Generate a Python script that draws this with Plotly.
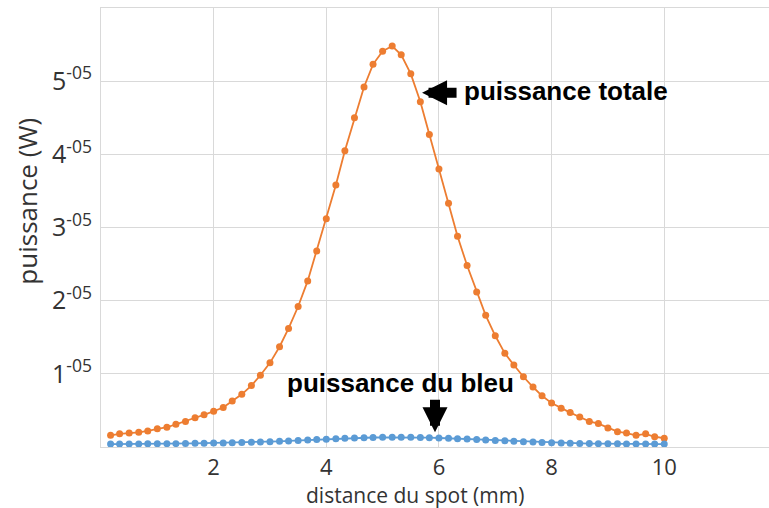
import plotly.graph_objects as go

# distance from the spot (mm)
distance_mm = [
    0.17, 0.33, 0.50, 0.67, 0.83, 1.00, 1.17, 1.33, 1.50, 1.67,
    1.83, 2.00, 2.17, 2.33, 2.50, 2.67, 2.83, 3.00, 3.17, 3.33,
    3.50, 3.67, 3.83, 4.00, 4.17, 4.33, 4.50, 4.67, 4.83, 5.00,
    5.17, 5.33, 5.50, 5.67, 5.83, 6.00, 6.17, 6.33, 6.50, 6.67,
    6.83, 7.00, 7.17, 7.33, 7.50, 7.67, 7.83, 8.00, 8.17, 8.33,
    8.50, 8.67, 8.83, 9.00, 9.17, 9.33, 9.50, 9.67, 9.83, 10.00,
]

# total power (W)
puissance_totale = [
    1.6e-6, 1.8e-6, 1.9e-6, 2.0e-6, 2.2e-6, 2.5e-6, 2.7e-6, 3.1e-6, 3.5e-6, 4.0e-6,
    4.4e-6, 4.9e-6, 5.4e-6, 6.3e-6, 7.2e-6, 8.4e-6, 9.8e-6, 1.15e-5, 1.37e-5, 1.62e-5,
    1.92e-5, 2.27e-5, 2.68e-5, 3.12e-5, 3.58e-5, 4.05e-5, 4.50e-5, 4.92e-5, 5.23e-5, 5.41e-5,
    5.48e-5, 5.36e-5, 5.10e-5, 4.72e-5, 4.27e-5, 3.80e-5, 3.33e-5, 2.88e-5, 2.48e-5, 2.12e-5,
    1.80e-5, 1.52e-5, 1.28e-5, 1.12e-5, 9.6e-6, 8.2e-6, 7.0e-6, 6.0e-6, 5.3e-6, 4.7e-6,
    4.1e-6, 3.5e-6, 3.2e-6, 2.6e-6, 2.1e-6, 1.9e-6, 1.6e-6, 1.8e-6, 1.4e-6, 1.2e-6,
]

# blue power (W)
puissance_bleu = [
    4.0e-7, 4.0e-7, 4.1e-7, 4.2e-7, 4.3e-7, 4.4e-7, 4.5e-7, 4.6e-7, 4.8e-7, 5.0e-7,
    5.2e-7, 5.4e-7, 5.6e-7, 5.9e-7, 6.2e-7, 6.5e-7, 6.9e-7, 7.3e-7, 7.8e-7, 8.3e-7,
    8.9e-7, 9.5e-7, 1.01e-6, 1.07e-6, 1.13e-6, 1.18e-6, 1.23e-6, 1.27e-6, 1.30e-6, 1.32e-6,
    1.33e-6, 1.33e-6, 1.32e-6, 1.30e-6, 1.27e-6, 1.23e-6, 1.18e-6, 1.13e-6, 1.08e-6, 1.02e-6,
    9.6e-7, 9.0e-7, 8.4e-7, 7.8e-7, 7.3e-7, 6.8e-7, 6.3e-7, 5.9e-7, 5.5e-7, 5.2e-7,
    4.9e-7, 4.7e-7, 4.5e-7, 4.4e-7, 4.3e-7, 4.2e-7, 4.1e-7, 4.1e-7, 4.0e-7, 4.0e-7,
]

x_ticks = [0, 2, 4, 6, 8, 10]
x_ticktext = ["", "2", "4", "6", "8", "10"]
y_ticks = [1e-5, 2e-5, 3e-5, 4e-5, 5e-5]
y_ticktext = ["1<sup>-05</sup>", "2<sup>-05</sup>", "3<sup>-05</sup>",
              "4<sup>-05</sup>", "5<sup>-05</sup>"]

ORANGE = "#ED7D31"
BLUE = "#5B9BD5"
GRID = "#D9D9D9"
AXIS_TXT = "#333333"
LABEL_FONT = "Open Sans, Liberation Sans, sans-serif"

fig = go.Figure()
fig.add_trace(go.Scatter(
    x=distance_mm, y=puissance_totale, mode="lines+markers",
    line=dict(color=ORANGE, width=1.8),
    marker=dict(color=ORANGE, size=7),
    name="puissance totale",
))
fig.add_trace(go.Scatter(
    x=distance_mm, y=puissance_bleu, mode="lines+markers",
    line=dict(color=BLUE, width=1.8),
    marker=dict(color=BLUE, size=7),
    name="puissance du bleu",
))

fig.update_layout(
    width=769, height=508,
    margin=dict(l=101, r=0, t=8, b=61),
    paper_bgcolor="white", plot_bgcolor="white",
    showlegend=False,
    font=dict(family=LABEL_FONT, color=AXIS_TXT),
    xaxis=dict(
        range=[0, 11.86],
        tickvals=x_ticks, ticktext=x_ticktext,
        tickfont=dict(size=22, color=AXIS_TXT),
        showgrid=True, gridcolor=GRID, gridwidth=1,
        zeroline=False,
        showline=True, linecolor=GRID, linewidth=1, mirror=True,
        ticks="", ticklabelstandoff=1,
    ),
    yaxis=dict(
        range=[0, 6e-5],
        tickvals=y_ticks, ticktext=y_ticktext,
        tickfont=dict(size=25, color=AXIS_TXT),
        showgrid=True, gridcolor=GRID, gridwidth=1,
        zeroline=False,
        showline=True, linecolor=GRID, linewidth=1,
        ticks="", ticklabelstandoff=3,
    ),
)

# axis titles
fig.add_annotation(
    xref="paper", yref="paper", x=0.47, y=-0.109, xanchor="center", yanchor="middle",
    text="distance du spot (mm)", showarrow=False,
    font=dict(family=LABEL_FONT, size=21, color=AXIS_TXT),
)
fig.add_annotation(
    xref="paper", yref="paper", x=-0.11, y=0.56, xanchor="center", yanchor="middle",
    text="puissance (W)", textangle=-90, showarrow=False,
    font=dict(family=LABEL_FONT, size=26, color=AXIS_TXT),
)

TXT_FONT = dict(family="Liberation Sans, Arial, sans-serif", size=26, color="black")

# label and arrow for the total power curve
fig.add_annotation(
    x=6.41, y=4.86e-5, xanchor="left", yanchor="middle",
    text="<b>puissance totale</b>", showarrow=False, font=TXT_FONT,
)
fig.add_annotation(
    x=5.70, y=4.84e-5, ax=36, ay=0, showarrow=True,
    arrowhead=2, arrowsize=0.5, arrowwidth=10, arrowcolor="black", text="",
)

# label and arrow for the blue power curve
fig.add_annotation(
    x=5.31, y=0.87e-5, xanchor="center", yanchor="middle",
    text="<b>puissance du bleu</b>", showarrow=False, font=TXT_FONT,
)
fig.add_annotation(
    x=5.93, y=0.20e-5, ax=0, ay=-34, showarrow=True,
    arrowhead=2, arrowsize=0.5, arrowwidth=10, arrowcolor="black", text="",
)

fig.write_html("out.html")
